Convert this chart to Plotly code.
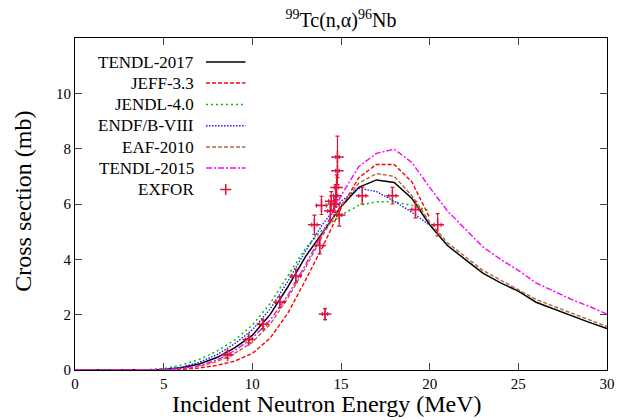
import plotly.graph_objects as go

# ---------------- data ----------------
E_full = [0, 1, 2, 3, 4, 5, 6, 7, 8, 9, 10, 11, 12, 13, 14, 15, 16, 17, 18, 19, 20,
          21, 22, 23, 24, 25, 26, 27, 28, 29, 30]
E_20 = [0, 1, 2, 3, 4, 5, 6, 7, 8, 9, 10, 11, 12, 13, 14, 15, 16, 17, 18, 19, 20]

tendl2017 = [0, 0, 0, 0, 0.005, 0.02, 0.08, 0.22, 0.45, 0.8, 1.25, 2.0, 3.0, 4.1, 5.0, 5.9,
             6.6, 6.87, 6.78, 6.2, 5.25, 4.5, 4.0, 3.5, 3.15, 2.85, 2.45, 2.2, 1.95, 1.72, 1.5]
jeff33 = [0, 0, 0, 0, 0, 0.0, 0.02, 0.07, 0.17, 0.32, 0.6, 1.15, 2.05, 3.25, 4.5, 5.85,
          6.95, 7.43, 7.43, 6.8, 5.5]
jendl40 = [0, 0, 0, 0, 0.01, 0.05, 0.18, 0.38, 0.68, 1.08, 1.62, 2.4, 3.4, 4.4, 5.1, 5.6,
           5.95, 6.08, 6.08, 5.95, 5.75]
endfb8 = [0, 0, 0, 0, 0.005, 0.03, 0.1, 0.28, 0.55, 0.95, 1.45, 2.2, 3.2, 4.3, 5.3, 6.1,
          6.57, 6.45, 6.1, 5.7, 5.24]
eaf2010 = [0, 0, 0, 0, 0, 0.01, 0.04, 0.13, 0.3, 0.6, 1.0, 1.65, 2.6, 3.7, 4.9, 5.95,
           6.75, 7.1, 7.0, 6.3, 5.35, 4.6, 4.1, 3.6, 3.25, 2.9, 2.55, 2.3, 2.05, 1.8, 1.57]
tendl2015 = [0, 0, 0, 0, 0, 0.01, 0.05, 0.16, 0.36, 0.7, 1.15, 1.8, 2.7, 3.8, 5.0, 6.3,
             7.35, 7.83, 7.98, 7.5, 6.6, 5.75, 5.1, 4.45, 4.0, 3.6, 3.15, 2.85, 2.55, 2.3, 2.02]

exfor_E = [8.6, 9.8, 10.6, 11.55, 12.45, 13.5, 13.8, 13.9, 14.1, 14.4, 14.45, 14.6,
           14.7, 14.75, 14.8, 14.8, 14.9, 16.2, 17.9, 19.2, 20.45]
exfor_s = [0.55, 1.1, 1.65, 2.45, 3.4, 5.25, 4.5, 5.95, 2.02, 5.75, 6.1, 6.0,
           6.3, 6.6, 7.2, 7.7, 5.6, 6.3, 6.3, 5.8, 5.25]
exfor_dE = [0.2, 0.2, 0.2, 0.25, 0.25, 0.15, 0.2, 0.28, 0.15, 0.15, 0.15, 0.12,
            0.12, 0.12, 0.1, 0.1, 0.15, 0.2, 0.2, 0.2, 0.2]
exfor_ds = [0.12, 0.12, 0.15, 0.2, 0.25, 0.35, 0.3, 0.33, 0.2, 0.35, 0.35, 0.3,
            0.4, 0.45, 0.5, 0.75, 0.4, 0.3, 0.3, 0.3, 0.4]

series_names = ["TENDL-2017", "JEFF-3.3", "JENDL-4.0", "ENDF/B-VIII", "EAF-2010", "TENDL-2015"]
x_ticks = [0, 5, 10, 15, 20, 25, 30]
y_ticks = [0, 2, 4, 6, 8, 10]

# ---------------- styles ----------------
styles = [
    dict(color="#000000", dash="solid", width=1.5),
    dict(color="#ff0000", dash="4px,2px", width=1.4),
    dict(color="#00c000", dash="2px,3px", width=1.5),
    dict(color="#1a1aff", dash="1.5px,1.5px", width=1.4),
    dict(color="#b5653a", dash="4px,2px", width=1.4),
    dict(color="#ff00ff", dash="6px,2px,2px,2px", width=1.4),
]
xs = [E_full, E_20, E_20, E_20, E_full, E_full]
ys = [tendl2017, jeff33, jendl40, endfb8, eaf2010, tendl2015]
exfor_color = "#dc143c"
FONT = "Liberation Serif, Times New Roman, Times, serif"

fig = go.Figure()
for name, x, y, st in zip(series_names, xs, ys, styles):
    fig.add_trace(go.Scatter(x=x, y=y, mode="lines", name=name, line=st,
                             showlegend=False))

fig.add_trace(go.Scatter(
    x=exfor_E, y=exfor_s, mode="markers", name="EXFOR", showlegend=False,
    marker=dict(symbol="cross-thin", size=9, color=exfor_color,
                line=dict(width=1.5, color=exfor_color)),
    error_x=dict(type="data", array=exfor_dE, color=exfor_color, thickness=1.2, width=2),
    error_y=dict(type="data", array=exfor_ds, color=exfor_color, thickness=1.2, width=2),
))

# ---------------- custom gnuplot-style key (overlay axes 0..1) ----------------
plot_top, plot_bot, plot_left, plot_right = 38, 370, 75, 615
def fy(py):
    return (plot_bot - py) / (plot_bot - plot_top)
def fx(px):
    return (px - plot_left) / (plot_right - plot_left)

row_y = [62, 83, 104.5, 125.7, 147, 168, 189.5]
line_x0, line_x1, text_right = 208, 248, 198
annotations = []
for i, (name, st) in enumerate(zip(series_names, styles)):
    fig.add_trace(go.Scatter(x=[fx(line_x0), fx(line_x1)], y=[fy(row_y[i])] * 2,
                             mode="lines", line=st, xaxis="x2", yaxis="y2",
                             showlegend=False, hoverinfo="skip"))
    annotations.append(dict(x=fx(text_right), y=fy(row_y[i]), xref="paper", yref="paper",
                            text=name, showarrow=False, xanchor="right", yanchor="middle",
                            font=dict(family=FONT, size=17, color="black")))
fig.add_trace(go.Scatter(x=[fx(228)], y=[fy(row_y[6])], mode="markers", xaxis="x2", yaxis="y2",
                         marker=dict(symbol="cross-thin", size=8, color=exfor_color,
                                     line=dict(width=1.5, color=exfor_color)),
                         showlegend=False, hoverinfo="skip"))
annotations.append(dict(x=fx(text_right), y=fy(row_y[6]), xref="paper", yref="paper",
                        text="EXFOR", showarrow=False, xanchor="right", yanchor="middle",
                        font=dict(family=FONT, size=17, color="black")))

# axis titles
annotations.append(dict(x=fx(330), y=fy(404), xref="paper", yref="paper",
                        text="Incident Neutron Energy (MeV)", showarrow=False,
                        xanchor="center", yanchor="middle",
                        font=dict(family=FONT, size=24, color="black")))
annotations.append(dict(x=fx(22), y=fy(201), xref="paper", yref="paper",
                        text="Cross section (mb)", showarrow=False, textangle=-90,
                        xanchor="center", yanchor="middle",
                        font=dict(family=FONT, size=24, color="black")))

fig.update_layout(
    width=625, height=420,
    margin=dict(l=plot_left, r=625 - plot_right, t=plot_top, b=420 - plot_bot),
    paper_bgcolor="white", plot_bgcolor="white",
    showlegend=False,
    font=dict(family=FONT, color="black"),
    title=dict(text="<sup>99</sup>Tc(n,α)<sup>96</sup>Nb", x=fx(345), xref="paper",
               y=1 - 20 / 420, yanchor="middle", xanchor="center",
               font=dict(family=FONT, size=20, color="black")),
    xaxis=dict(range=[0, 30], tickvals=x_ticks, ticks="inside", ticklen=7,
               showline=True, linecolor="black", linewidth=1.2, mirror="ticks",
               showgrid=False, zeroline=False, tickfont=dict(family=FONT, size=15)),
    yaxis=dict(range=[0, 12], tickvals=y_ticks, ticks="inside", ticklen=7,
               showline=True, linecolor="black", linewidth=1.2, mirror="ticks",
               showgrid=False, zeroline=False, tickfont=dict(family=FONT, size=15)),
    xaxis2=dict(range=[0, 1], overlaying="x", visible=False, fixedrange=True),
    yaxis2=dict(range=[0, 1], overlaying="y", visible=False, fixedrange=True),
    annotations=annotations,
)

fig.write_html("out.html")
